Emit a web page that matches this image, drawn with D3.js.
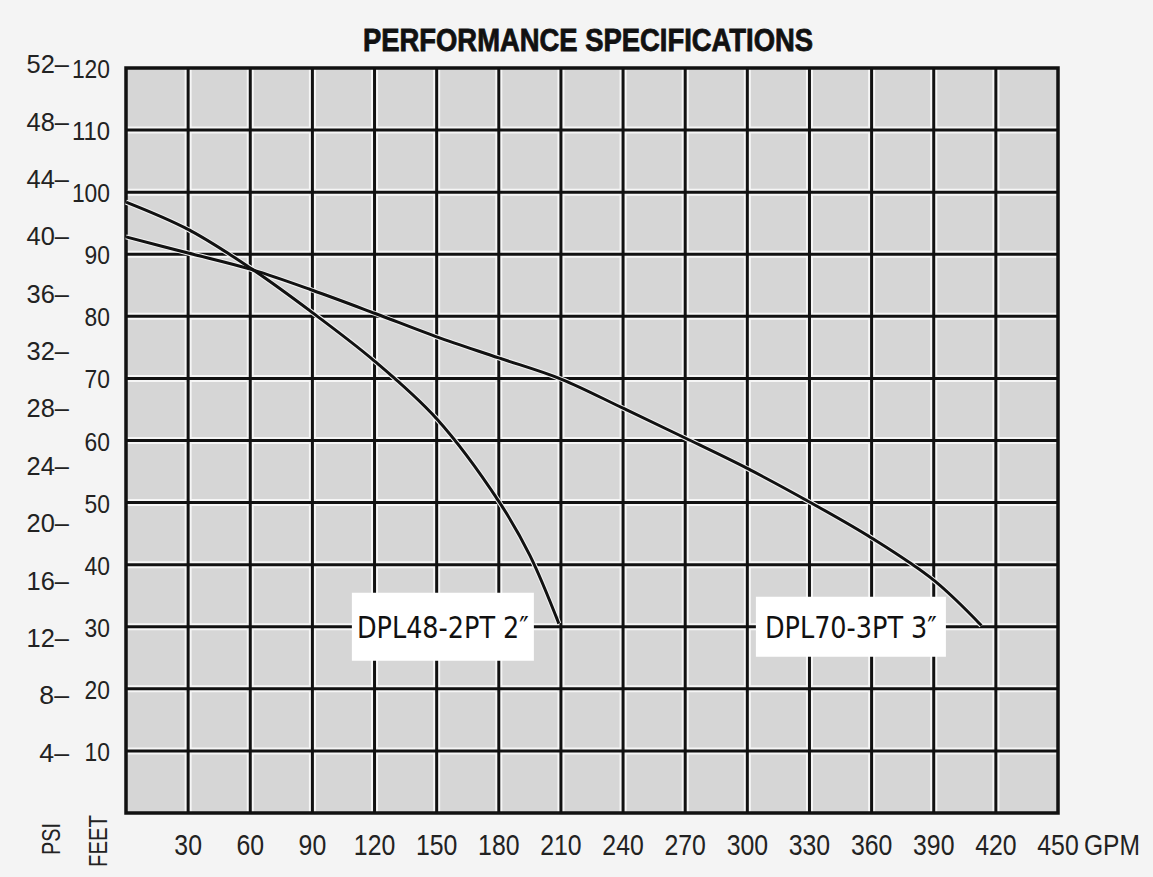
<!DOCTYPE html>
<html>
<head>
<meta charset="utf-8">
<script src="https://cdn.jsdelivr.net/npm/d3@7"></script>
<style>
  html, body { margin: 0; padding: 0; background: #f3f3f3; }
  svg { display: block; }
</style>
</head>
<body>
<svg id="chart" width="1153" height="877"></svg>
<script>
// ---- data ----
const title = "PERFORMANCE SPECIFICATIONS";
const gpmTicks = [30, 60, 90, 120, 150, 180, 210, 240, 270, 300, 330, 360, 390, 420, 450];
const feetTicks = [10, 20, 30, 40, 50, 60, 70, 80, 90, 100, 110, 120];
const psiTicks = [4, 8, 12, 16, 20, 24, 28, 32, 36, 40, 44, 48, 52];
const feetPerPsi = 2.31;

const seriesNames = ["DPL48-2PT 2\u2033", "DPL70-3PT 3\u2033"];
const dpl48Gpm  = [0, 30, 60, 90, 120, 150, 180, 195, 209];
const dpl48Feet = [98.4, 94, 87.8, 80.6, 72.8, 63.5, 50.2, 41.5, 30.5];
const dpl70Gpm  = [0, 30, 60, 90, 120, 150, 180, 210, 240, 270, 300, 330, 360, 390, 413];
const dpl70Feet = [92.8, 90.2, 87.6, 84.2, 80.5, 76.7, 73.3, 69.9, 65.2, 60.4, 55.5, 50.1, 44.3, 37.5, 30.2];
const labelAnchors = [{gpm: 153, feet: 30}, {gpm: 350, feet: 30}];

// ---- layout ----
const svg = d3.select("#chart");
const pL = 126, pT = 68, pR = 1058, pB = 813;
const x = d3.scaleLinear().domain([0, 450]).range([pL, pR]);
const y = d3.scaleLinear().domain([0, 120]).range([pB, pT]);
const yPsi = d3.scaleLinear().domain([0, 120 / feetPerPsi]).range([pB, pT]);

const sans = "'Liberation Sans', Arial, Helvetica, sans-serif";

// background
svg.append("rect").attr("width", 1153).attr("height", 877).attr("fill", "#f4f4f4");

// plot area
svg.append("rect")
  .attr("x", pL).attr("y", pT)
  .attr("width", pR - pL).attr("height", pB - pT)
  .attr("fill", "#d6d6d6");

const grid = svg.append("g");
const vx = gpmTicks.filter(d => d < 450);
const hy = feetTicks.filter(d => d < 120);
// white halos
grid.selectAll("line.vh").data(vx).join("line").attr("class", "vh")
  .attr("x1", d => x(d)).attr("x2", d => x(d)).attr("y1", pT).attr("y2", pB)
  .attr("stroke", "#f6f6f6").attr("stroke-width", 7);
grid.selectAll("line.hh").data(hy).join("line").attr("class", "hh")
  .attr("y1", d => y(d)).attr("y2", d => y(d)).attr("x1", pL).attr("x2", pR)
  .attr("stroke", "#f6f6f6").attr("stroke-width", 7);
// black lines
grid.selectAll("line.v").data(vx).join("line").attr("class", "v")
  .attr("x1", d => x(d)).attr("x2", d => x(d)).attr("y1", pT).attr("y2", pB)
  .attr("stroke", "#111").attr("stroke-width", 3);
grid.selectAll("line.h").data(hy).join("line").attr("class", "h")
  .attr("y1", d => y(d)).attr("y2", d => y(d)).attr("x1", pL).attr("x2", pR)
  .attr("stroke", "#111").attr("stroke-width", 3);

// frame
svg.append("rect")
  .attr("x", pL).attr("y", pT)
  .attr("width", pR - pL).attr("height", pB - pT)
  .attr("fill", "none").attr("stroke", "#111").attr("stroke-width", 3.5);

// curves
const line = d3.line().x(d => x(d[0])).y(d => y(d[1])).curve(d3.curveCatmullRom.alpha(0.5));
const curves = [d3.zip(dpl48Gpm, dpl48Feet), d3.zip(dpl70Gpm, dpl70Feet)];
svg.selectAll("path.halo").data(curves).join("path").attr("class", "halo")
  .attr("d", line).attr("fill", "none").attr("stroke", "#f2f2f2").attr("stroke-width", 5);
svg.selectAll("path.curve").data(curves).join("path").attr("class", "curve")
  .attr("d", line).attr("fill", "none").attr("stroke", "#111").attr("stroke-width", 3);

// labels with white boxes
const boxW = [182, 190], boxH = [68, 60];
labelAnchors.forEach((a, i) => {
  const cx = x(a.gpm), cy = y(a.feet);
  svg.append("rect")
    .attr("x", cx - boxW[i] / 2).attr("y", cy - boxH[i] / 2)
    .attr("width", boxW[i]).attr("height", boxH[i])
    .attr("fill", "#ffffff");
  svg.append("text")
    .attr("x", cx).attr("y", cy + 11)
    .attr("text-anchor", "middle")
    .attr("font-family", "'DejaVu Sans Condensed', 'DejaVu Sans', sans-serif")
    .attr("font-size", 30)
    .attr("fill", "#111")
    .attr("textLength", 172).attr("lengthAdjust", "spacingAndGlyphs")
    .text(seriesNames[i]);
});

// title
svg.append("text")
  .attr("x", 588).attr("y", 51)
  .attr("text-anchor", "middle")
  .attr("font-family", sans).attr("font-weight", "bold")
  .attr("font-size", 31).attr("fill", "#111")
  .attr("stroke", "#111").attr("stroke-width", 0.8)
  .attr("textLength", 450).attr("lengthAdjust", "spacingAndGlyphs")
  .text(title);

// FEET axis
svg.selectAll("text.feet").data(feetTicks).join("text").attr("class", "feet")
  .attr("x", 110).attr("y", d => y(d) + 10)
  .attr("text-anchor", "end")
  .attr("font-family", sans).attr("font-size", 25).attr("fill", "#222")
  .attr("textLength", d => String(d).length * 12.7).attr("lengthAdjust", "spacingAndGlyphs")
  .text(d => d);

// PSI axis
svg.selectAll("text.psi").data(psiTicks).join("text").attr("class", "psi")
  .attr("x", 69).attr("y", d => yPsi(d) + 6)
  .attr("text-anchor", "end")
  .attr("font-family", sans).attr("font-size", 25).attr("fill", "#222")
  .attr("textLength", d => String(d).length * 12.7 + 17).attr("lengthAdjust", "spacingAndGlyphs")
  .text(d => d + "\u2013");

// GPM axis
svg.selectAll("text.gpm").data(gpmTicks).join("text").attr("class", "gpm")
  .attr("x", d => x(d)).attr("y", 855)
  .attr("text-anchor", "middle")
  .attr("font-family", sans).attr("font-size", 30).attr("fill", "#222")
  .attr("textLength", d => String(d).length * 13.8).attr("lengthAdjust", "spacingAndGlyphs")
  .text(d => d);
svg.append("text")
  .attr("x", 1084).attr("y", 855)
  .attr("font-family", sans).attr("font-size", 30).attr("fill", "#222")
  .attr("textLength", 56).attr("lengthAdjust", "spacingAndGlyphs")
  .text("GPM");

// rotated unit labels
[["PSI", 51, 839, 32], ["FEET", 98, 841, 52]].forEach(([t, cx, cy, len]) => {
  svg.append("text")
    .attr("transform", `translate(${cx + 9},${cy}) rotate(-90)`)
    .attr("text-anchor", "middle")
    .attr("font-family", sans).attr("font-size", 26).attr("fill", "#222")
    .attr("textLength", len).attr("lengthAdjust", "spacingAndGlyphs")
    .text(t);
});
</script>
</body>
</html>
